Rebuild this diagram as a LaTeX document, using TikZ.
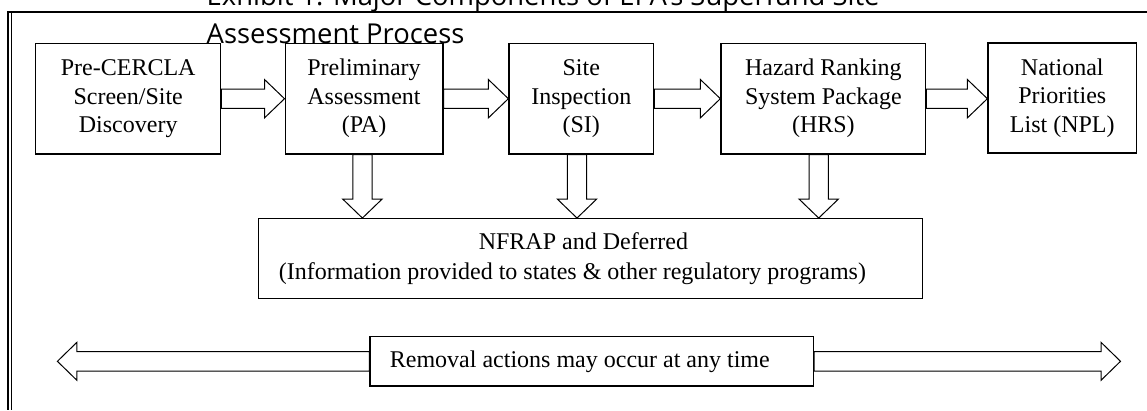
\documentclass[tikz,border=0pt]{standalone}
\usepackage{fontspec}
\usetikzlibrary{calc}
\newfontfamily\boxfont{Liberation Serif}
\newfontfamily\titlefont{Open Sans}

\begin{document}
\begin{tikzpicture}[x=1pt, y=-1pt,
  stage/.style={draw, line width=1.3pt, align=center, inner sep=0pt,
    font=\boxfont\fontsize{24}{28.5}\selectfont},
  note/.style={stage, font=\boxfont\fontsize{24}{30}\selectfont},
  heading/.style={anchor=base west, inner sep=0pt,
    font=\titlefont\fontsize{27.4}{38}\selectfont},
  blockarrow/.style={draw, line width=1pt, fill=white, line join=miter}]
  \useasboundingbox (0,0) rectangle (1147,410);

  % frame
  \draw[line width=2pt] (7,12) -- (1147,12);
  \draw[line width=2pt] (8.3,11) -- (8.3,410);
  \draw[line width=1pt] (11.5,12) -- (11.5,410);

  \node[heading] (title1) at (206.5,5) {Exhibit 1: Major Components of EPA's Superfund Site};
  \node[heading] (title2) at (206.5,43) {Assessment Process};

  \node[stage, minimum width=185pt, minimum height=110.7pt] (pre) at (128.2,98.7) {Pre-CERCLA\\Screen/Site\\Discovery};
  \node[stage, minimum width=157.7pt, minimum height=110.7pt] (pa) at (364,98.7) {Preliminary\\Assessment\\(PA)};
  \node[stage, minimum width=144.6pt, minimum height=110.7pt] (si) at (581.3,98.7) {Site\\Inspection\\(SI)};
  \node[stage, minimum width=204.8pt, minimum height=110.7pt] (hrs) at (823.4,98.7) {Hazard Ranking\\System Package\\(HRS)};
  \node[stage, minimum width=148.6pt, minimum height=110pt] (npl) at (1062.3,98) {National\\Priorities\\List (NPL)};

  \node[note, minimum width=664pt, minimum height=79.6pt] (nfrap) at (590.4,258.5)
    {NFRAP and Deferred\hspace*{14pt}\\(Information provided to states \& other regulatory programs)\hspace*{36pt}};
  \node[note, minimum width=443.5pt, minimum height=49.3pt] (removal) at (591.8,361.3)
    {Removal actions may occur at any time\hspace*{24pt}};

  % flow to the right
  \foreach \a/\b in {pre/pa, pa/si, si/hrs, hrs/npl}
    \draw[blockarrow] let \p1=(\a.east), \p2=(\b.west) in
      (\x1,\y1+9.7pt) -- (\x2-20pt,\y1+9.7pt) -- (\x2-20pt,\y1+19.2pt) -- (\x2,\y1)
      -- (\x2-20pt,\y1-19.2pt) -- (\x2-20pt,\y1-9.7pt) -- (\x1,\y1-9.7pt) -- cycle;

  % down to NFRAP
  \foreach \a/\dx in {pa/-1.6, si/-4.3, hrs/-4.7}
    \draw[blockarrow] let \p1=([xshift=\dx pt]\a.south), \p2=(nfrap.north) in
      (\x1-9.6pt,\y1) -- (\x1-9.6pt,\y2+19pt) -- (\x1-19.7pt,\y2+19pt) -- (\x1,\y2)
      -- (\x1+19.7pt,\y2+19pt) -- (\x1+9.6pt,\y2+19pt) -- (\x1+9.6pt,\y1) -- cycle;

  % removal at any time
  \coordinate (lefttip) at (57.4,362);
  \coordinate (righttip) at (1120.5,362);
  \draw[blockarrow] let \p1=(removal.west), \p2=(lefttip) in
    (\x1,\y1+9.7pt) -- (\x2+19.5pt,\y1+9.7pt) -- (\x2+19.5pt,\y1+19pt) -- (\x2,\y1)
    -- (\x2+19.5pt,\y1-19pt) -- (\x2+19.5pt,\y1-9.7pt) -- (\x1,\y1-9.7pt) -- cycle;
  \draw[blockarrow] let \p1=(removal.east), \p2=(righttip) in
    (\x1,\y1+9.7pt) -- (\x2-19.5pt,\y1+9.7pt) -- (\x2-19.5pt,\y1+19pt) -- (\x2,\y1)
    -- (\x2-19.5pt,\y1-19pt) -- (\x2-19.5pt,\y1-9.7pt) -- (\x1,\y1-9.7pt) -- cycle;
\end{tikzpicture}
\end{document}
